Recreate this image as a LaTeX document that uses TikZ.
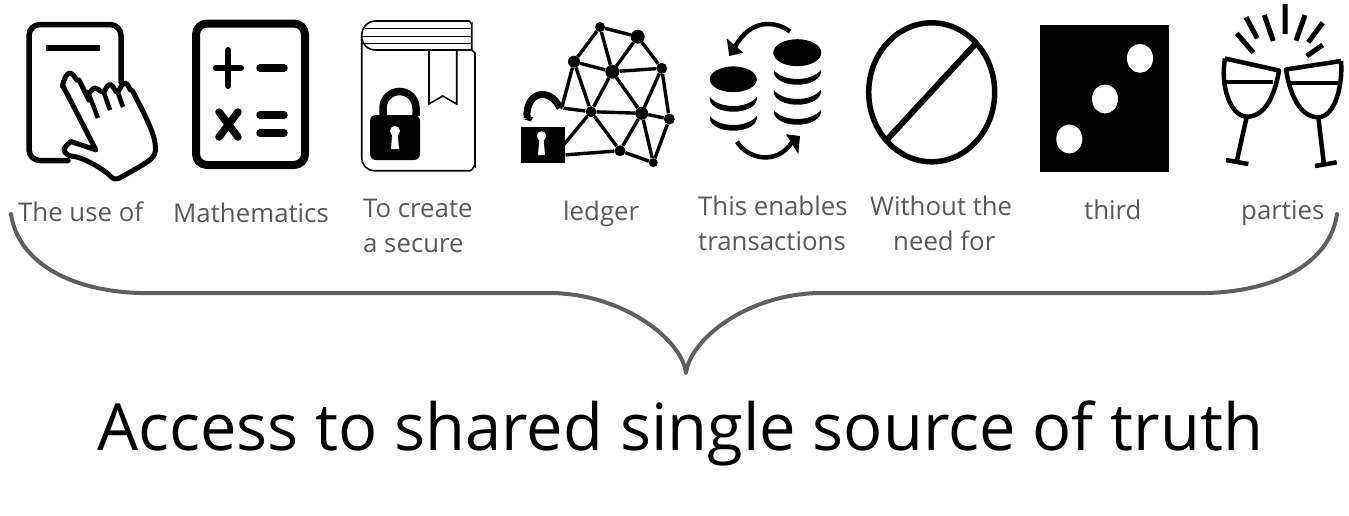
\documentclass[tikz,border=0pt]{standalone}
\usepackage{fontspec}
\setmainfont{Open Sans}
\definecolor{lbl}{HTML}{595959}
\definecolor{brc}{HTML}{5F5F5F}
\tikzset{
 lab/.style={text=lbl,font=\fontsize{25.8}{30}\selectfont,inner sep=0pt,anchor=base west},
 headline/.style={text=black,font=\fontsize{65}{70}\selectfont,inner sep=0pt,anchor=base west},
 ink/.style={line width=#1,draw=black,line cap=round,line join=round},
 ink/.default=5pt,
 netnode/.style={circle,fill=black,inner sep=0pt,minimum size=#1},
 netnode/.default=9pt,
 netedge/.style={line width=3.4pt,draw=black},
 glass/.style={line width=4.5pt,draw=black,line join=round}
}
\begin{document}
\begin{tikzpicture}[x=1pt,y=-1pt]
\useasboundingbox (0,0) rectangle (1349,515);
% hand
\draw[ink=5.5pt,rounded corners=11pt] (68,160.5) -- (29,160.5) -- (29,24.5) -- (121,24.5) -- (121,82);
\draw[ink=6pt,line cap=butt] (46,48) -- (100,48);
\draw[ink=5pt,fill=white] (96,150) -- (63,86) to[out=-110,in=180] (70,73) to[out=0,in=-120] (79,80) -- (89,100) -- (88,92) to[out=-70,in=180] (95,88) to[out=0,in=-110] (103,91) to[out=-70,in=180] (110,84.5) to[out=0,in=-110] (117,91) to[out=-70,in=180] (125,83) to[out=0,in=-120] (132,90) -- plot[smooth,tension=.55] coordinates {(132,90) (148,122) (155,143) (152,158) (125,175) (115,179) (107,173) (95,165) (80,158) (68,155) (64,149) (71,141.5)} -- cycle;
\draw[ink=4.5pt,line cap=butt] (88,92) -- (98,118) (103,90) -- (110,110) (117,90) -- (123,107);
% math
\draw[line width=8pt,draw=black,rounded corners=11pt] (196,23.5) rectangle (305,165);
\draw[ink=6pt] (216,68) -- (241,68) (228.3,50) -- (228.3,86);
\draw[ink=7.5pt] (260,68) -- (284,68) (260,115) -- (284,115) (260,133) -- (284,133);
\draw[ink=7.5pt] (219,112) -- (238,137) (238,112) -- (219,137);
% book
\draw[line width=1.6pt] (471.7,50) -- (471.7,24) to[out=-90,in=0] (469,21) -- (376,21) .. controls (367,21) and (361.7,28) .. (361.7,36) -- (361.7,157) .. controls (361.7,165) and (367,170.7) .. (374,170.7) -- (470,170.7) to[out=0,in=90] (475,166) -- (475,53) -- (471.7,50) -- (376,50) .. controls (367,50) and (361.7,44) .. (361.7,36);
\draw[line width=1.6pt] (365,28.5) -- (471.7,28.5) (362,36.5) -- (471.7,36.5) (363,43.5) -- (471.7,43.5);
\draw[line width=1.6pt] (429,50) -- (429,104) -- (442.7,96) -- (456.7,104) -- (456.7,50);
\fill[rounded corners=6pt] (370,115) -- (420,115) -- (420,160) -- (370,160) -- cycle;
\draw[line width=7.5pt] (383,116) -- (383,108) arc[start angle=180,end angle=360,radius=16.5] -- (416,116);
\fill[white] (395,131) circle[radius=5] (392.5,131) -- (397.5,131) -- (399,149) -- (391,149) -- cycle;
% network
\foreach \n/\x/\y/\s in {na/600/27/10pt,nb/637.7/36.7/14pt,nc/574/61.7/12pt,nd/612.3/71.7/14pt,ne/661.7/68.3/11pt,nf/591/111.7/11pt,ng/641.7/113.3/13pt,nh/669.3/119/11pt,ni/620/150.7/11pt,nj/653.3/162.7/9pt,nk/561.7/108/3pt,nl/564/155/3pt,nm/562/147/3pt}
  \node[netnode=\s] (\n) at (\x,\y) {};
\foreach \p/\q in {na/nb,na/nc,na/nd,nb/nd,nb/ne,nc/nd,nc/nf,nc/nk,nd/ne,nd/nf,nd/ng,ne/ng,ne/nh,nf/ng,nf/ni,nf/nk,nf/nm,ng/nh,ng/ni,ng/nj,nh/nj,ni/nj,ni/nl}
  \draw[netedge] (\p) -- (\q);
\draw[line width=7pt] (527,118) .. controls (526,104) and (533,94.5) .. (542,94.5) .. controls (550,94.5) and (556,100) .. (560,108);
\fill (523,119) -- (533,117) -- (531,121.5) -- cycle;
\fill (521,126.7) rectangle (565,163.3);
\fill[white] (541.5,136) circle[radius=4.7] (539.5,138) -- (543.5,138) -- (545,155) -- (538,155) -- cycle;
% coins
\fill (733.3,79.3) ellipse[x radius=23.5,y radius=12.9];
\fill (797.3,52.7) ellipse[x radius=24,y radius=13.5];
\foreach \cx/\cy in {733.3/97,733.3/116,797.3/70,797.3/90,797.3/110}
  \fill (\cx-23.5,\cy) .. controls (\cx-14,\cy+12) and (\cx+14,\cy+12) .. (\cx+23.5,\cy) -- (\cx+23.5,\cy+3) .. controls (\cx+20,\cy+18.6) and (\cx-20,\cy+18.6) .. (\cx-23.5,\cy+3) -- cycle;
\draw[line width=4.5pt] (790,31.7) .. controls (775,20) and (750,19) .. (735,47);
\fill (726.7,38.3) -- (729.3,56) -- (743.3,52.7) -- cycle;
\draw[line width=4.5pt] (737,141.7) .. controls (748,160) and (778,165) .. (792,142);
\fill (786,134.3) -- (800,136) -- (798.3,154) -- cycle;
% no sign
\draw[line width=5.5pt] (931.7,92.3) ellipse[x radius=63,y radius=69.5];
\draw[line width=6pt] (976,43.3) -- (887.3,139.3);
% die
\fill (1040,25) rectangle (1169.3,171.7);
\fill[white] (1069.3,139) ellipse[x radius=13,y radius=14.5] (1105,99) ellipse[x radius=13,y radius=14.5] (1140,58.3) ellipse[x radius=13,y radius=14.5];
% glasses
\draw[glass] (1225,58.5) -- (1279,70.5) .. controls (1275,95) and (1265,117) .. (1246.7,116.7) .. controls (1230,116) and (1220,85) .. (1225,58.5);
\draw[glass] (1341,61) -- (1286,69.5) .. controls (1290,95) and (1300,117) .. (1318.3,117.3) .. controls (1335,117) and (1343,85) .. (1341,61);
\draw[glass,line width=4pt] (1225,81.7) -- (1273,81.7) (1291,83) -- (1340,83);
\draw[glass] (1246.7,116.7) -- (1236.7,161.7) (1226,160) -- (1248.3,164);
\draw[glass] (1318.3,117.3) -- (1324,165) (1315,166) -- (1336.7,162.3);
\draw[line width=5pt] (1236.7,33.3) -- (1253.3,52.7) (1246,17.3) -- (1257.3,38.3) (1264.3,15) -- (1273.3,41) (1285,4) -- (1285,34) (1305,15) -- (1296,40.7) (1322.7,22.7) -- (1308.3,42.3) (1322.7,45) -- (1306.7,56);
% labels
\node[lab] (t1) at (18,221) {The use of};
\node[lab] (t2) at (173,222) {Mathematics};
\node[lab] (t3a) at (363,217) {To create};
\node[lab] (t3b) at (363,252.5) {a secure};
\node[lab] (t4) at (563,220) {ledger};
\node[lab] (t5a) at (698,215.5) {This enables};
\node[lab] (t5b) at (698,250.5) {transactions};
\node[lab] (t6a) at (870,215.5) {Without the};
\node[lab] (t6b) at (893,250.5) {need for};
\node[lab] (t7) at (1084,219) {third};
\node[lab] (t8) at (1241,219) {parties};
% brace
\draw[line width=4pt,draw=brc,line cap=round,line join=round] (11,214) .. controls (18,262) and (70,291) .. (140,293) -- (553,293) .. controls (625,295) and (682,340) .. (686,373) .. controls (690,340) and (745,295) .. (818,293) -- (1207,293) .. controls (1278,291) and (1330,262) .. (1337,214);
\node[headline] (main) at (97,450) {Access to shared single source of truth};
\end{tikzpicture}
\end{document}
